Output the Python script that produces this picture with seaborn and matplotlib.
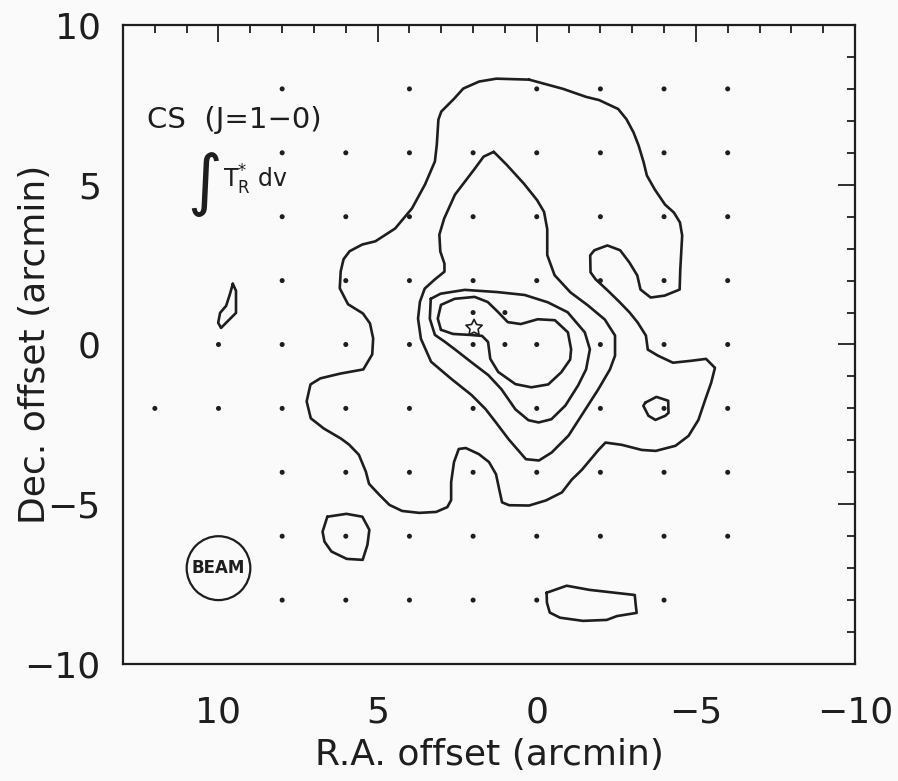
import numpy as np
import pandas as pd
import matplotlib
matplotlib.use("Agg")
import matplotlib.pyplot as plt
from matplotlib.ticker import MultipleLocator, FixedLocator
from matplotlib.patches import Circle
import seaborn as sns

# ---------------- data (arcmin offsets read from the map) ----------------
# outermost contour (level 1)
outer_x = [0.24, 1.27, 1.81, 2.31, 2.59, 3.00, 3.09, 3.14, 3.20, 3.51,
           3.92, 4.45, 5.07, 5.48, 5.88, 6.07, 6.16, 6.19, 5.93, 5.46,
           5.24, 5.14, 5.17, 5.45, 6.17, 6.80, 7.11, 7.23, 7.10, 6.69,
           6.16, 5.90, 5.59, 5.37, 5.27, 4.95, 4.63, 4.23, 3.69, 3.16,
           2.81, 2.69, 2.69, 2.60, 2.45, 2.23, 1.82, 1.50, 1.28, 1.18,
           1.09, 0.87, 0.24, -0.29, -0.79, -1.10, -1.42, -1.95, -2.16, -2.67,
           -3.30, -3.74, -4.36, -4.77, -5.08, -5.29, -5.48, -5.60, -5.32, -4.85,
           -4.28, -3.81, -3.49, -3.43, -3.17, -2.92, -2.61, -2.23, -1.85, -1.69,
           -1.68, -1.81, -2.22, -2.62, -2.91, -3.16, -3.26, -3.58, -4.02, -4.49,
           -4.51, -4.57, -4.50, -4.31, -4.03, -3.71, -3.46, -3.36, -3.20, -3.04,
           -2.82, -2.56, -1.96, -1.55, -0.83]
outer_y = [8.29, 8.32, 8.23, 8.01, 7.70, 7.29, 7.04, 6.26, 5.73, 5.01,
           4.26, 3.63, 3.23, 3.13, 2.92, 2.67, 2.29, 1.76, 1.26, 0.97,
           0.66, 0.19, -0.31, -0.78, -0.91, -1.06, -1.25, -1.78, -2.31, -2.63,
           -2.94, -3.13, -3.45, -3.98, -4.36, -4.70, -5.02, -5.21, -5.27, -5.24,
           -5.09, -4.87, -4.31, -3.68, -3.27, -3.24, -3.43, -3.68, -4.06, -4.53,
           -4.94, -5.03, -5.04, -4.88, -4.63, -4.23, -3.92, -3.29, -3.07, -3.14,
           -3.30, -3.33, -3.17, -2.86, -2.36, -1.74, -1.20, -0.73, -0.45, -0.51,
           -0.57, -0.35, -0.16, 0.28, 0.69, 1.00, 1.32, 1.69, 2.04, 2.26,
           2.79, 2.95, 3.10, 2.95, 2.57, 2.16, 1.72, 1.47, 1.53, 1.72,
           2.34, 3.41, 3.82, 4.13, 4.38, 4.85, 5.29, 5.70, 6.23, 6.64,
           7.05, 7.37, 7.65, 7.75, 8.00]

# second contour (level 2)
lev2_x = [1.35, 0.94, 0.40, -0.01, -0.23, -0.33, -0.33, -0.56, -1.06, -1.60,
          -2.14, -2.46, -2.46, -2.30, -1.93, -1.53, -1.00, -0.47, -0.07, 0.34,
          0.88, 1.29, 1.61, 2.05, 2.68, 3.32, 3.64, 3.73, 3.67, 3.52,
          3.21, 2.90, 2.90, 3.03, 3.06, 2.91, 2.57, 1.95, 1.67]
lev2_y = [6.03, 5.62, 5.03, 4.52, 4.15, 3.61, 2.80, 2.17, 1.63, 1.23,
          0.78, 0.28, -0.35, -0.78, -1.41, -2.03, -2.85, -3.38, -3.63, -3.59,
          -2.97, -2.43, -2.02, -1.58, -1.08, -0.54, 0.18, 0.81, 1.34, 1.75,
          2.03, 2.28, 2.53, 2.91, 3.44, 3.94, 4.69, 5.50, 5.88]

# third contour (level 3)
lev3_x = [3.33, 3.02, 2.26, 1.23, 0.38, -0.35, -0.97, -1.51, -1.67, -1.55,
          -1.30, -0.90, -0.46, -0.06, 0.26, 0.67, 1.11, 1.52, 2.06, 2.47,
          2.88, 3.20, 3.36]
lev3_y = [1.43, 1.59, 1.71, 1.64, 1.55, 1.32, 1.01, 0.38, -0.15, -0.78,
          -1.28, -1.91, -2.34, -2.44, -2.37, -2.03, -1.40, -0.96, -0.55, -0.23,
          0.08, 0.30, 0.81]

# innermost contour (level 4)
lev4_x = [3.01, 3.11, 3.01, 2.58, 1.95, 1.54, 1.22, 0.91, 0.50, -0.03,
          -0.57, -0.98, -1.08, -1.05, -0.77, -0.36, 0.17, 0.67, 1.21, 1.46,
          1.53, 1.72, 2.10, 2.63]
lev4_y = [0.46, 0.81, 1.24, 1.43, 1.49, 1.33, 1.02, 0.70, 0.64, 0.79,
          0.76, 0.38, -0.15, -0.47, -0.87, -1.25, -1.34, -1.24, -0.86, -0.45,
          0.08, 0.27, 0.30, 0.33]

# isolated level-1 islands
islandA_x = [9.55, 9.45, 9.45, 9.64, 9.92, 10.01, 9.95, 9.76, 9.64]
islandA_y = [1.90, 1.68, 0.99, 0.80, 0.52, 0.68, 0.99, 1.21, 1.58]
islandB_x = [6.58, 5.98, 5.48, 5.26, 5.32, 5.47, 5.97, 6.45, 6.67, 6.73]
islandB_y = [-5.39, -5.30, -5.39, -5.80, -6.27, -6.74, -6.71, -6.48, -6.17, -5.86]
islandC_x = [-3.41, -3.76, -4.13, -4.14, -4.04, -3.73, -3.51, -3.35]
islandC_y = [-1.82, -1.64, -1.76, -2.14, -2.23, -2.36, -2.23, -1.92]
islandD_x = [-0.31, -0.94, -1.66, -3.08, -3.11, -3.14, -2.52, -2.20, -1.45, -0.73, -0.41, -0.32]
islandD_y = [-7.77, -7.55, -7.68, -7.84, -8.15, -8.40, -8.50, -8.62, -8.65, -8.55, -8.39, -8.08]

# observed positions (dots): Dec row -> list of R.A. offsets
obs_rows = {
    8: [8, 4, 0, -2, -4, -6],
    6: [8, 6, 4, 2, 0, -2, -4, -6],
    4: [8, 6, 4, 2, 0, -2, -4, -6],
    2: [8, 6, 4, 2, 0, -2, -4, -6],
    1: [2, 1],
    0: [10, 8, 6, 4, 2, 1, 0, -2, -4, -6],
    -2: [12, 10, 8, 6, 4, 2, 0, -2, -4, -6],
    -4: [8, 6, 4, 2, 0, -2, -4, -6],
    -6: [8, 6, 4, 2, 0, -2, -4, -6],
    -8: [8, 6, 4, 2, 0, -4],
}

star_x = [1.97]
star_y = [0.52]

beam_center = (10.0, -7.0)
beam_radius = 1.0

x_ticks = [10, 5, 0, -5, -10]
y_ticks = [-10, -5, 0, 5, 10]
x_limits = (13, -10)
y_limits = (-10, 10)

# ---------------- styling ----------------
sns.set_theme(style="white")
plt.rcParams["font.family"] = ["DejaVu Sans"]
plt.rcParams["mathtext.fontset"] = "dejavusans"
plt.rcParams["mathtext.default"] = "regular"
plt.rcParams["axes.unicode_minus"] = True

bg = "#fafafa"
ink = "#1e1e1e"

fig = plt.figure(figsize=(8.98, 7.81), dpi=100, facecolor=bg)
ax = fig.add_axes([0.1370, 0.1498, 0.8151, 0.8182])
ax.set_facecolor(bg)

# contours
contours = [
    ("outer", outer_x, outer_y), ("lev2", lev2_x, lev2_y),
    ("lev3", lev3_x, lev3_y), ("lev4", lev4_x, lev4_y),
    ("islA", islandA_x, islandA_y), ("islB", islandB_x, islandB_y),
    ("islC", islandC_x, islandC_y), ("islD", islandD_x, islandD_y),
]
frames = []
for name, xs, ys in contours:
    xs = list(xs) + [xs[0]]
    ys = list(ys) + [ys[0]]
    frames.append(pd.DataFrame({"ra": xs, "dec": ys, "contour": name,
                                "order": np.arange(len(xs))}))
cdf = pd.concat(frames, ignore_index=True)
sns.lineplot(data=cdf, x="ra", y="dec", units="contour", estimator=None,
             sort=False, color=ink, linewidth=1.9, legend=False, ax=ax,
             solid_joinstyle="round", solid_capstyle="round")

# observed grid dots
dots = pd.DataFrame([(ra, dec) for dec, ras in obs_rows.items() for ra in ras],
                    columns=["ra", "dec"])
sns.scatterplot(data=dots, x="ra", y="dec", s=13, color=ink, edgecolor="none",
                legend=False, ax=ax)

# star marker
ax.scatter(star_x, star_y, marker=(5, 1, 0), s=150, facecolors="none",
           edgecolors=ink, linewidths=1.2, zorder=5)

# beam
ax.add_patch(Circle(beam_center, beam_radius, fill=False, edgecolor=ink, linewidth=1.6))
ax.text(beam_center[0], beam_center[1], "BEAM", ha="center", va="center",
        fontsize=12, fontweight="bold", color=ink)

# annotations
ax.text(0.033, 0.839, "CS  (J=1\u22120)", transform=ax.transAxes, fontsize=21,
        color=ink, ha="left", va="baseline")
ax.text(0.111, 0.751, "\u222B", transform=ax.transAxes, fontsize=48,
        color=ink, ha="center", va="center")
ax.text(0.137, 0.745, r"T$_{R}^{*}$ dv", transform=ax.transAxes, fontsize=17,
        color=ink, ha="left", va="baseline")

# axes
ax.set_xlim(*x_limits)
ax.set_ylim(*y_limits)
ax.xaxis.set_major_locator(FixedLocator(x_ticks))
ax.yaxis.set_major_locator(FixedLocator(y_ticks))
ax.xaxis.set_minor_locator(MultipleLocator(1))
ax.yaxis.set_minor_locator(MultipleLocator(1))
ax.tick_params(which="both", direction="in", top=True, right=True,
               color=ink, width=1.3, labelcolor=ink)
ax.tick_params(which="major", length=12, labelsize=26)
ax.tick_params(which="minor", length=6)
ax.tick_params(axis="x", which="major", pad=23)
ax.tick_params(axis="y", which="major", pad=16)
for sp in ax.spines.values():
    sp.set_color(ink)
    sp.set_linewidth(1.6)

ax.set_xlabel("R.A. offset (arcmin)", fontsize=26, color=ink)
ax.set_ylabel("Dec. offset (arcmin)", fontsize=26, color=ink)
ax.xaxis.set_label_coords(0.5, -0.116)
ax.yaxis.set_label_coords(-0.097, 0.5)

fig.savefig("out.png", dpi=100, facecolor=bg)
